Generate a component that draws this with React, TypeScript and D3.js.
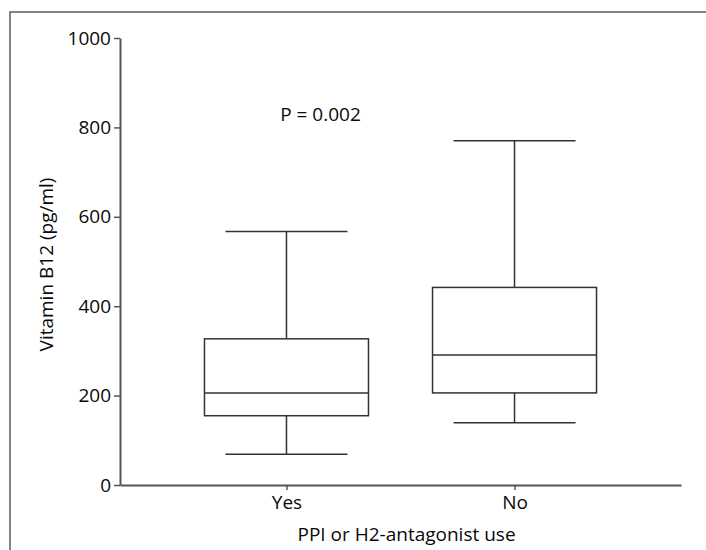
import { useEffect, useRef } from 'react';
import * as d3 from 'd3';

const groups = ['Yes', 'No'];
const whiskerLow = [69, 139];
const q1 = [155, 206];
const median = [206, 291];
const q3 = [327, 442];
const whiskerHigh = [567, 770];
const yTicks = [0, 200, 400, 600, 800, 1000];

const pLabel = 'P = 0.002';
const yTitle = 'Vitamin B12 (pg/ml)';
const xTitle = 'PPI or H2-antagonist use';

const W = 706;
const H = 550;
const MARGIN = { top: 38, right: 25, bottom: 65, left: 120 };
const FONT = "'Open Sans', sans-serif";
const FONT_SIZE = 19;
const INK = '#333';
const TEXT = '#0a0a0a';

export default function App() {
  const ref = useRef<SVGSVGElement | null>(null);

  useEffect(() => {
    if (!ref.current) return;
    const svg = d3.select(ref.current);
    svg.selectAll('*').remove();

    const innerW = W - MARGIN.left - MARGIN.right;
    const innerH = H - MARGIN.top - MARGIN.bottom;

    const x = d3.scalePoint<string>().domain(groups).range([0, innerW]).padding(0.73);
    const y = d3.scaleLinear().domain([0, 1000]).range([innerH, 0]);

    // outer frame, cut off at right and bottom
    svg.append('rect')
      .attr('x', 10)
      .attr('y', 12)
      .attr('width', 730)
      .attr('height', 580)
      .attr('fill', 'white')
      .attr('stroke', '#666')
      .attr('stroke-width', 1.6);

    const g = svg.append('g').attr('transform', `translate(${MARGIN.left},${MARGIN.top})`);

    const boxW = 164;
    const capW = 122;

    groups.forEach((name, i) => {
      const cx = x(name) as number;
      const line = (x1: number, y1: number, x2: number, y2: number) =>
        g.append('line')
          .attr('x1', x1).attr('y1', y1).attr('x2', x2).attr('y2', y2)
          .attr('stroke', INK).attr('stroke-width', 1.5);

      line(cx, y(whiskerHigh[i]), cx, y(q3[i]));
      line(cx, y(q1[i]), cx, y(whiskerLow[i]));
      line(cx - capW / 2, y(whiskerHigh[i]), cx + capW / 2, y(whiskerHigh[i]));
      line(cx - capW / 2, y(whiskerLow[i]), cx + capW / 2, y(whiskerLow[i]));

      g.append('rect')
        .attr('x', cx - boxW / 2)
        .attr('y', y(q3[i]))
        .attr('width', boxW)
        .attr('height', y(q1[i]) - y(q3[i]))
        .attr('fill', 'none')
        .attr('stroke', INK)
        .attr('stroke-width', 1.5);
      line(cx - boxW / 2, y(median[i]), cx + boxW / 2, y(median[i]));
    });

    const yAxis = g.append('g')
      .call(
        d3.axisLeft(y)
          .tickValues(yTicks)
          .tickFormat(d3.format('d'))
          .tickSize(6)
          .tickSizeOuter(0)
          .tickPadding(3)
      );
    const xAxis = g.append('g')
      .attr('transform', `translate(0,${innerH})`)
      .call(d3.axisBottom(x).tickSize(5).tickSizeOuter(0).tickPadding(6));

    [yAxis, xAxis].forEach((ax) => {
      ax.select('.domain').attr('stroke', '#555').attr('stroke-width', 2);
      ax.selectAll('.tick line').attr('stroke', '#555').attr('stroke-width', 1.5);
      ax.selectAll('.tick text')
        .attr('font-family', FONT)
        .attr('font-size', FONT_SIZE)
        .attr('fill', TEXT);
    });

    g.append('text')
      .attr('x', (x('Yes') as number) + 34)
      .attr('y', y(825))
      .attr('text-anchor', 'middle')
      .attr('dominant-baseline', 'middle')
      .attr('font-family', FONT)
      .attr('font-size', FONT_SIZE)
      .attr('fill', TEXT)
      .text(pLabel);

    svg.append('text')
      .attr('transform', `translate(48,${MARGIN.top + innerH / 2 + 3}) rotate(-90)`)
      .attr('text-anchor', 'middle')
      .attr('dominant-baseline', 'middle')
      .attr('font-family', FONT)
      .attr('font-size', FONT_SIZE)
      .attr('fill', TEXT)
      .text(yTitle);

    svg.append('text')
      .attr('x', MARGIN.left + innerW / 2 + 6)
      .attr('y', 536)
      .attr('text-anchor', 'middle')
      .attr('dominant-baseline', 'middle')
      .attr('font-family', FONT)
      .attr('font-size', FONT_SIZE)
      .attr('fill', TEXT)
      .text(xTitle);
  }, []);

  return (
    <svg
      ref={ref}
      width={W}
      height={H}
      style={{ position: 'absolute', left: 0, top: 0, background: 'white' }}
    />
  );
}
